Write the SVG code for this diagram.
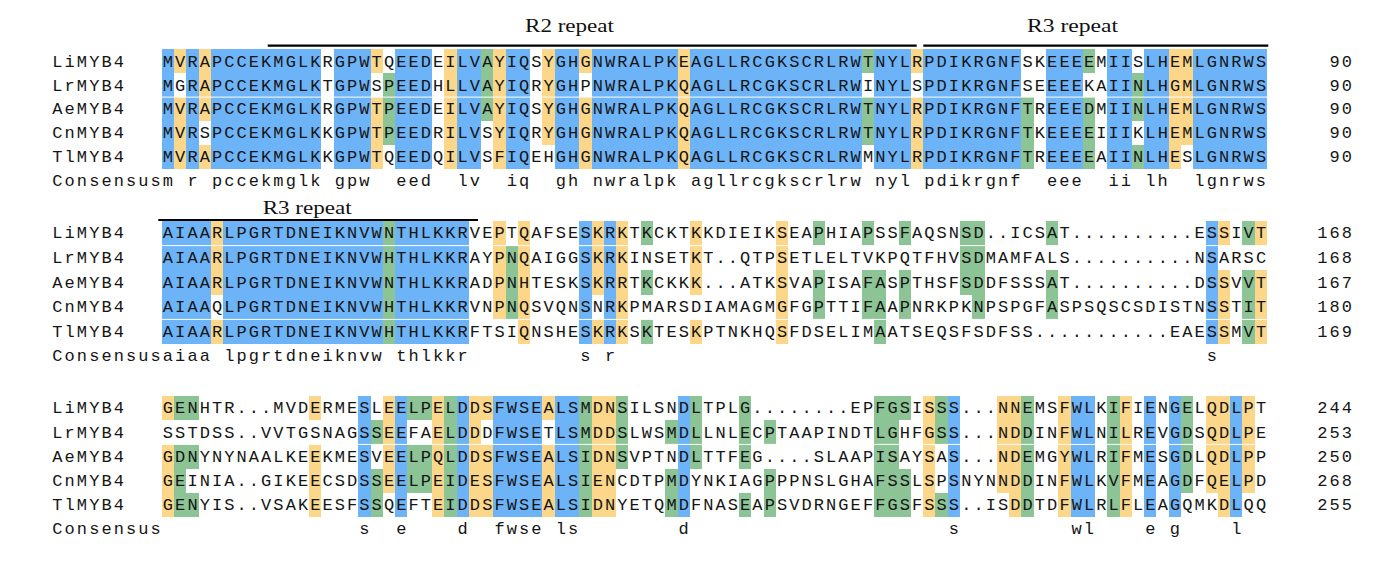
<svg xmlns="http://www.w3.org/2000/svg" width="1386" height="563" viewBox="0 0 1386 563">
<style>
.b{fill:#6db3f8}.o{fill:#fcd689}.g{fill:#8cc496}
.seq{font-family:"Liberation Mono","DejaVu Sans Mono",monospace;font-size:17px;letter-spacing:2.08px;fill:#151515}
.hd{font-family:"Liberation Serif","Times New Roman",serif;font-size:19px;fill:#111}
.sep{fill:#ffffff}
.ln{stroke:#000;stroke-width:2.2;fill:none}
</style>
<rect width="1386" height="563" fill="#ffffff"/>

<g id="repeat-lines">
<line class="ln" x1="267.7" y1="45.7" x2="916.7" y2="45.7"/>
<line class="ln" x1="923.3" y1="45.7" x2="1268.3" y2="45.7"/>
<line class="ln" x1="158.3" y1="220" x2="478" y2="220"/>
<text class="hd" x="525" y="32" textLength="89" lengthAdjust="spacingAndGlyphs">R2 repeat</text>
<text class="hd" x="1027" y="32" textLength="91" lengthAdjust="spacingAndGlyphs">R3 repeat</text>
<text class="hd" x="262.7" y="213.5" textLength="89" lengthAdjust="spacingAndGlyphs">R3 repeat</text>
</g>

<g id="block1">
<g transform="translate(161.8 49.3) scale(12.28 23.85)" shape-rendering="crispEdges">
<rect class="b" x="0" y="0" width="1" height="5"/>
<rect class="b" x="2" y="0" width="1" height="5"/>
<rect class="b" x="4" y="0" width="9" height="5"/>
<rect class="b" x="14" y="0" width="3" height="5"/>
<rect class="b" x="19" y="0" width="3" height="5"/>
<rect class="b" x="24" y="0" width="2" height="5"/>
<rect class="b" x="28" y="0" width="2" height="5"/>
<rect class="b" x="32" y="0" width="2" height="5"/>
<rect class="b" x="35" y="0" width="7" height="5"/>
<rect class="b" x="43" y="0" width="14" height="5"/>
<rect class="b" x="58" y="0" width="3" height="5"/>
<rect class="b" x="62" y="0" width="8" height="5"/>
<rect class="b" x="72" y="0" width="3" height="5"/>
<rect class="b" x="77" y="0" width="2" height="5"/>
<rect class="b" x="80" y="0" width="2" height="5"/>
<rect class="b" x="84" y="0" width="6" height="5"/>
<rect class="o" x="1" y="0" width="1" height="1"/>
<rect class="o" x="1" y="2" width="1" height="3"/>
<rect class="o" x="3" y="0" width="1" height="3"/>
<rect class="o" x="3" y="4" width="1" height="1"/>
<rect class="o" x="17" y="0" width="1" height="1"/>
<rect class="o" x="17" y="2" width="1" height="3"/>
<rect class="o" x="23" y="0" width="1" height="5"/>
<rect class="o" x="27" y="0" width="1" height="5"/>
<rect class="o" x="31" y="0" width="1" height="4"/>
<rect class="o" x="34" y="0" width="1" height="1"/>
<rect class="o" x="34" y="2" width="1" height="3"/>
<rect class="o" x="42" y="0" width="1" height="5"/>
<rect class="o" x="61" y="0" width="1" height="1"/>
<rect class="o" x="61" y="2" width="1" height="3"/>
<rect class="o" x="82" y="0" width="2" height="4"/>
<rect class="o" x="82" y="4" width="1" height="1"/>
<rect class="g" x="18" y="1" width="1" height="3"/>
<rect class="g" x="26" y="0" width="1" height="3"/>
<rect class="g" x="57" y="0" width="1" height="1"/>
<rect class="g" x="57" y="2" width="1" height="2"/>
<rect class="g" x="70" y="2" width="1" height="3"/>
<rect class="g" x="75" y="0" width="1" height="1"/>
<rect class="g" x="75" y="2" width="1" height="3"/>
<rect class="g" x="79" y="1" width="1" height="2"/>
<rect class="g" x="79" y="4" width="1" height="1"/>
</g>
<rect class="sep" x="161.8" y="96.6" width="1105.2" height="1"/>
<text class="seq" x="52.3" y="66.7">LiMYB4</text>
<text class="seq" x="52.3" y="90.55">LrMYB4</text>
<text class="seq" x="52.3" y="114.4">AeMYB4</text>
<text class="seq" x="52.3" y="138.25">CnMYB4</text>
<text class="seq" x="52.3" y="162.1">TlMYB4</text>
<text class="seq" x="52.3" y="185.95">Consensus</text>
<text class="seq" x="162.84" y="66.7">MVRAPCCEKMGLKRGPWTQEEDEILVAYIQSYGHGNWRALPKEAGLLRCGKSCRLRWTNYLRPDIKRGNFSKEEEEMIISLHEMLGNRWS</text>
<text class="seq" x="162.84" y="90.55">MGRAPCCEKMGLKTGPWSPEEDHLLVAYIQRYGHPNWRALPKQAGLLRCGKSCRLRWINYLSPDIKRGNFSEEEEKAIINLHGMLGNRWS</text>
<text class="seq" x="162.84" y="114.4">MVRAPCCEKMGLKRGPWTPEEDEILVAYIQSYGHGNWRALPKQAGLLRCGKSCRLRWTNYLRPDIKRGNFTREEEDMIINLHEMLGNRWS</text>
<text class="seq" x="162.84" y="138.25">MVRSPCCEKMGLKKGPWTPEEDRILVSYIQRYGHGNWRALPKQAGLLRCGKSCRLRWTNYLRPDIKRGNFTKEEEEIIIKLHEMLGNRWS</text>
<text class="seq" x="162.84" y="162.1">MVRAPCCEKMGLKKGPWTQEEDQILVSFIQEHGHGNWRALPKQAGLLRCGKSCRLRWMNYLRPDIKRGNFTREEEEAIINLHESLGNRWS</text>
<text class="seq" y="185.95"><tspan x="162.84">m r pccekmglk gpw</tspan><tspan x="396.16">eed</tspan><tspan x="457.56">lv</tspan><tspan x="506.68">iq</tspan><tspan x="555.8">gh nwralpk agllrcgkscrlrw nyl pdikrgnf</tspan><tspan x="1047">eee</tspan><tspan x="1108.4">ii lh</tspan><tspan x="1194.36">lgnrws</tspan></text>
<text class="seq" x="1329.44" y="66.7">90</text>
<text class="seq" x="1329.44" y="90.55">90</text>
<text class="seq" x="1329.44" y="114.4">90</text>
<text class="seq" x="1329.44" y="138.25">90</text>
<text class="seq" x="1329.44" y="162.1">90</text>
</g>

<g id="block2">
<g transform="translate(161.8 221) scale(12.28 24.6)" shape-rendering="crispEdges">
<rect class="b" x="0" y="0" width="4" height="5"/>
<rect class="b" x="5" y="0" width="13" height="5"/>
<rect class="b" x="19" y="0" width="6" height="5"/>
<rect class="b" x="34" y="0" width="1" height="5"/>
<rect class="b" x="36" y="0" width="1" height="5"/>
<rect class="b" x="85" y="0" width="1" height="5"/>
<rect class="o" x="4" y="0" width="1" height="3"/>
<rect class="o" x="4" y="4" width="1" height="1"/>
<rect class="o" x="27" y="0" width="1" height="4"/>
<rect class="o" x="29" y="0" width="1" height="5"/>
<rect class="o" x="35" y="0" width="1" height="3"/>
<rect class="o" x="35" y="4" width="1" height="1"/>
<rect class="o" x="37" y="0" width="1" height="5"/>
<rect class="o" x="43" y="0" width="1" height="3"/>
<rect class="o" x="43" y="4" width="1" height="1"/>
<rect class="o" x="50" y="0" width="1" height="5"/>
<rect class="o" x="86" y="0" width="1" height="1"/>
<rect class="o" x="86" y="2" width="1" height="3"/>
<rect class="o" x="89" y="0" width="1" height="1"/>
<rect class="o" x="89" y="2" width="1" height="3"/>
<rect class="g" x="18" y="0" width="1" height="5"/>
<rect class="g" x="28" y="1" width="1" height="3"/>
<rect class="g" x="39" y="0" width="1" height="1"/>
<rect class="g" x="39" y="2" width="1" height="1"/>
<rect class="g" x="39" y="4" width="1" height="1"/>
<rect class="g" x="53" y="0" width="1" height="1"/>
<rect class="g" x="53" y="2" width="1" height="2"/>
<rect class="g" x="57" y="0" width="1" height="1"/>
<rect class="g" x="57" y="2" width="2" height="2"/>
<rect class="g" x="58" y="4" width="1" height="1"/>
<rect class="g" x="60" y="0" width="1" height="1"/>
<rect class="g" x="60" y="2" width="1" height="2"/>
<rect class="g" x="65" y="0" width="2" height="3"/>
<rect class="g" x="66" y="3" width="1" height="1"/>
<rect class="g" x="72" y="0" width="1" height="1"/>
<rect class="g" x="72" y="2" width="1" height="2"/>
<rect class="g" x="88" y="0" width="1" height="1"/>
<rect class="g" x="88" y="2" width="1" height="3"/>
</g>
<rect class="sep" x="161.8" y="245.1" width="1105.2" height="1"/>
<rect class="sep" x="161.8" y="318.9" width="1105.2" height="1"/>
<text class="seq" x="52.3" y="238.4">LiMYB4</text>
<text class="seq" x="52.3" y="263">LrMYB4</text>
<text class="seq" x="52.3" y="287.6">AeMYB4</text>
<text class="seq" x="52.3" y="312.2">CnMYB4</text>
<text class="seq" x="52.3" y="336.8">TlMYB4</text>
<text class="seq" x="52.3" y="361.4">Consensus</text>
<text class="seq" x="162.84" y="238.4">AIAARLPGRTDNEIKNVWNTHLKKRVEPTQAFSESKRKTKCKTKKDIEIKSEAPHIAPSSFAQSNSD..ICSAT..........ESSIVT</text>
<text class="seq" x="162.84" y="263">AIAARLPGRTDNEIKNVWHTHLKKRAYPNQAIGGSKRKINSETKT..QTPSETLELTVKPQTFHVSDMAMFALS..........NSARSC</text>
<text class="seq" x="162.84" y="287.6">AIAARLPGRTDNEIKNVWNTHLKKRADPNHTESKSKRRTKCKKK...ATKSVAPISAFASPTHSFSDDFSSSAT..........DSSVVT</text>
<text class="seq" x="162.84" y="312.2">AIAAQLPGRTDNEIKNVWHTHLKKRVNPNQSVQNSNRKPMARSDIAMAGMGFGPTTIFAAPNRKPKNPSPGFASPSQSCSDISTNSSTIT</text>
<text class="seq" x="162.84" y="336.8">AIAARLPGRTDNEIKNVWHTHLKKRFTSIQNSHESKRKSKTESKPTNKHQSFDSELIMAATSEQSFSDFSS...........EAESSMVT</text>
<text class="seq" y="361.4"><tspan x="162.84">aiaa lpgrtdneiknvw thlkkr</tspan><tspan x="580.36">s r</tspan><tspan x="1206.64">s</tspan></text>
<text class="seq" x="1317.16" y="238.4">168</text>
<text class="seq" x="1317.16" y="263">168</text>
<text class="seq" x="1317.16" y="287.6">167</text>
<text class="seq" x="1317.16" y="312.2">180</text>
<text class="seq" x="1317.16" y="336.8">169</text>
</g>

<g id="block3">
<g transform="translate(161.8 396) scale(12.28 24.2)" shape-rendering="crispEdges">
<rect class="b" x="16" y="0" width="1" height="5"/>
<rect class="b" x="19" y="0" width="1" height="5"/>
<rect class="b" x="24" y="0" width="1" height="5"/>
<rect class="b" x="27" y="0" width="4" height="5"/>
<rect class="b" x="32" y="0" width="2" height="5"/>
<rect class="b" x="42" y="0" width="1" height="5"/>
<rect class="b" x="64" y="0" width="1" height="5"/>
<rect class="b" x="74" y="0" width="2" height="5"/>
<rect class="b" x="80" y="0" width="1" height="5"/>
<rect class="b" x="82" y="0" width="1" height="5"/>
<rect class="b" x="87" y="0" width="1" height="5"/>
<rect class="o" x="0" y="0" width="1" height="1"/>
<rect class="o" x="0" y="2" width="1" height="3"/>
<rect class="o" x="12" y="0" width="1" height="1"/>
<rect class="o" x="12" y="2" width="1" height="3"/>
<rect class="o" x="18" y="0" width="1" height="4"/>
<rect class="o" x="22" y="0" width="1" height="5"/>
<rect class="o" x="25" y="0" width="2" height="1"/>
<rect class="o" x="25" y="1" width="1" height="1"/>
<rect class="o" x="25" y="2" width="2" height="3"/>
<rect class="o" x="31" y="0" width="1" height="1"/>
<rect class="o" x="31" y="2" width="1" height="3"/>
<rect class="o" x="35" y="0" width="2" height="5"/>
<rect class="o" x="62" y="0" width="1" height="5"/>
<rect class="o" x="68" y="0" width="2" height="4"/>
<rect class="o" x="69" y="4" width="1" height="1"/>
<rect class="o" x="73" y="0" width="1" height="5"/>
<rect class="o" x="78" y="0" width="1" height="5"/>
<rect class="o" x="85" y="0" width="2" height="4"/>
<rect class="o" x="86" y="4" width="1" height="1"/>
<rect class="o" x="88" y="0" width="1" height="4"/>
<rect class="g" x="1" y="0" width="2" height="1"/>
<rect class="g" x="1" y="2" width="2" height="1"/>
<rect class="g" x="1" y="3" width="1" height="1"/>
<rect class="g" x="1" y="4" width="2" height="1"/>
<rect class="g" x="17" y="1" width="1" height="1"/>
<rect class="g" x="17" y="3" width="1" height="2"/>
<rect class="g" x="20" y="0" width="2" height="1"/>
<rect class="g" x="20" y="2" width="2" height="2"/>
<rect class="g" x="23" y="0" width="1" height="5"/>
<rect class="g" x="34" y="0" width="1" height="5"/>
<rect class="g" x="37" y="0" width="1" height="3"/>
<rect class="g" x="41" y="1" width="1" height="1"/>
<rect class="g" x="41" y="3" width="1" height="2"/>
<rect class="g" x="43" y="0" width="1" height="3"/>
<rect class="g" x="47" y="0" width="1" height="3"/>
<rect class="g" x="47" y="4" width="1" height="1"/>
<rect class="g" x="49" y="1" width="1" height="1"/>
<rect class="g" x="49" y="3" width="1" height="2"/>
<rect class="g" x="58" y="0" width="2" height="5"/>
<rect class="g" x="60" y="0" width="1" height="1"/>
<rect class="g" x="60" y="3" width="1" height="2"/>
<rect class="g" x="63" y="0" width="1" height="2"/>
<rect class="g" x="63" y="4" width="1" height="1"/>
<rect class="g" x="70" y="0" width="1" height="5"/>
<rect class="g" x="77" y="0" width="1" height="5"/>
<rect class="g" x="83" y="0" width="1" height="4"/>
</g>
<rect class="sep" x="161.8" y="443.9" width="1105.2" height="1"/>
<text class="seq" x="52.3" y="413.4">LiMYB4</text>
<text class="seq" x="52.3" y="437.6">LrMYB4</text>
<text class="seq" x="52.3" y="461.8">AeMYB4</text>
<text class="seq" x="52.3" y="486">CnMYB4</text>
<text class="seq" x="52.3" y="510.2">TlMYB4</text>
<text class="seq" x="52.3" y="534.4">Consensus</text>
<text class="seq" x="162.84" y="413.4">GENHTR...MVDERMESLEELPELDDSFWSEALSMDNSILSNDLTPLG........EPFGSISSS...NNEMSFWLKIFIENGELQDLPT</text>
<text class="seq" x="162.84" y="437.6">SSTDSS..VVTGSNAGSSEEFAELDDDFWSETLSMDDSLWSMDLLNLECPTAAPINDTLGHFGSS...NDDINFWLNILREVGDSQDLPE</text>
<text class="seq" x="162.84" y="461.8">GDNYNYNAALKEEKMESVEELPQLDDSFWSEALSIDNSVPTNDLTTFEG....SLAAPISAYSAS...NDEMGYWLRIFMESGDLQDLPP</text>
<text class="seq" x="162.84" y="486">GEINIA..GIKEECSDSSEELPEIDESFWSEALSIENCDTPMDYNKIAGPPPNSLGHAFSSLSPSNYNNDDINFWLKVFMEAGDFQELPD</text>
<text class="seq" x="162.84" y="510.2">GENYIS..VSAKEESFSSQEFTEIDDSFWSEALSIDNYETQMDFNASEAPSVDRNGEFFGSFSSS..ISDDTDFWLRLFLEAGQMKDLQQ</text>
<text class="seq" y="534.4"><tspan x="359.32">s</tspan><tspan x="396.16">e</tspan><tspan x="457.56">d</tspan><tspan x="494.4">fwse ls</tspan><tspan x="678.6">d</tspan><tspan x="948.76">s</tspan><tspan x="1071.56">wl</tspan><tspan x="1145.24">e g</tspan><tspan x="1231.2">l</tspan></text>
<text class="seq" x="1317.16" y="413.4">244</text>
<text class="seq" x="1317.16" y="437.6">253</text>
<text class="seq" x="1317.16" y="461.8">250</text>
<text class="seq" x="1317.16" y="486">268</text>
<text class="seq" x="1317.16" y="510.2">255</text>
</g>
</svg>
